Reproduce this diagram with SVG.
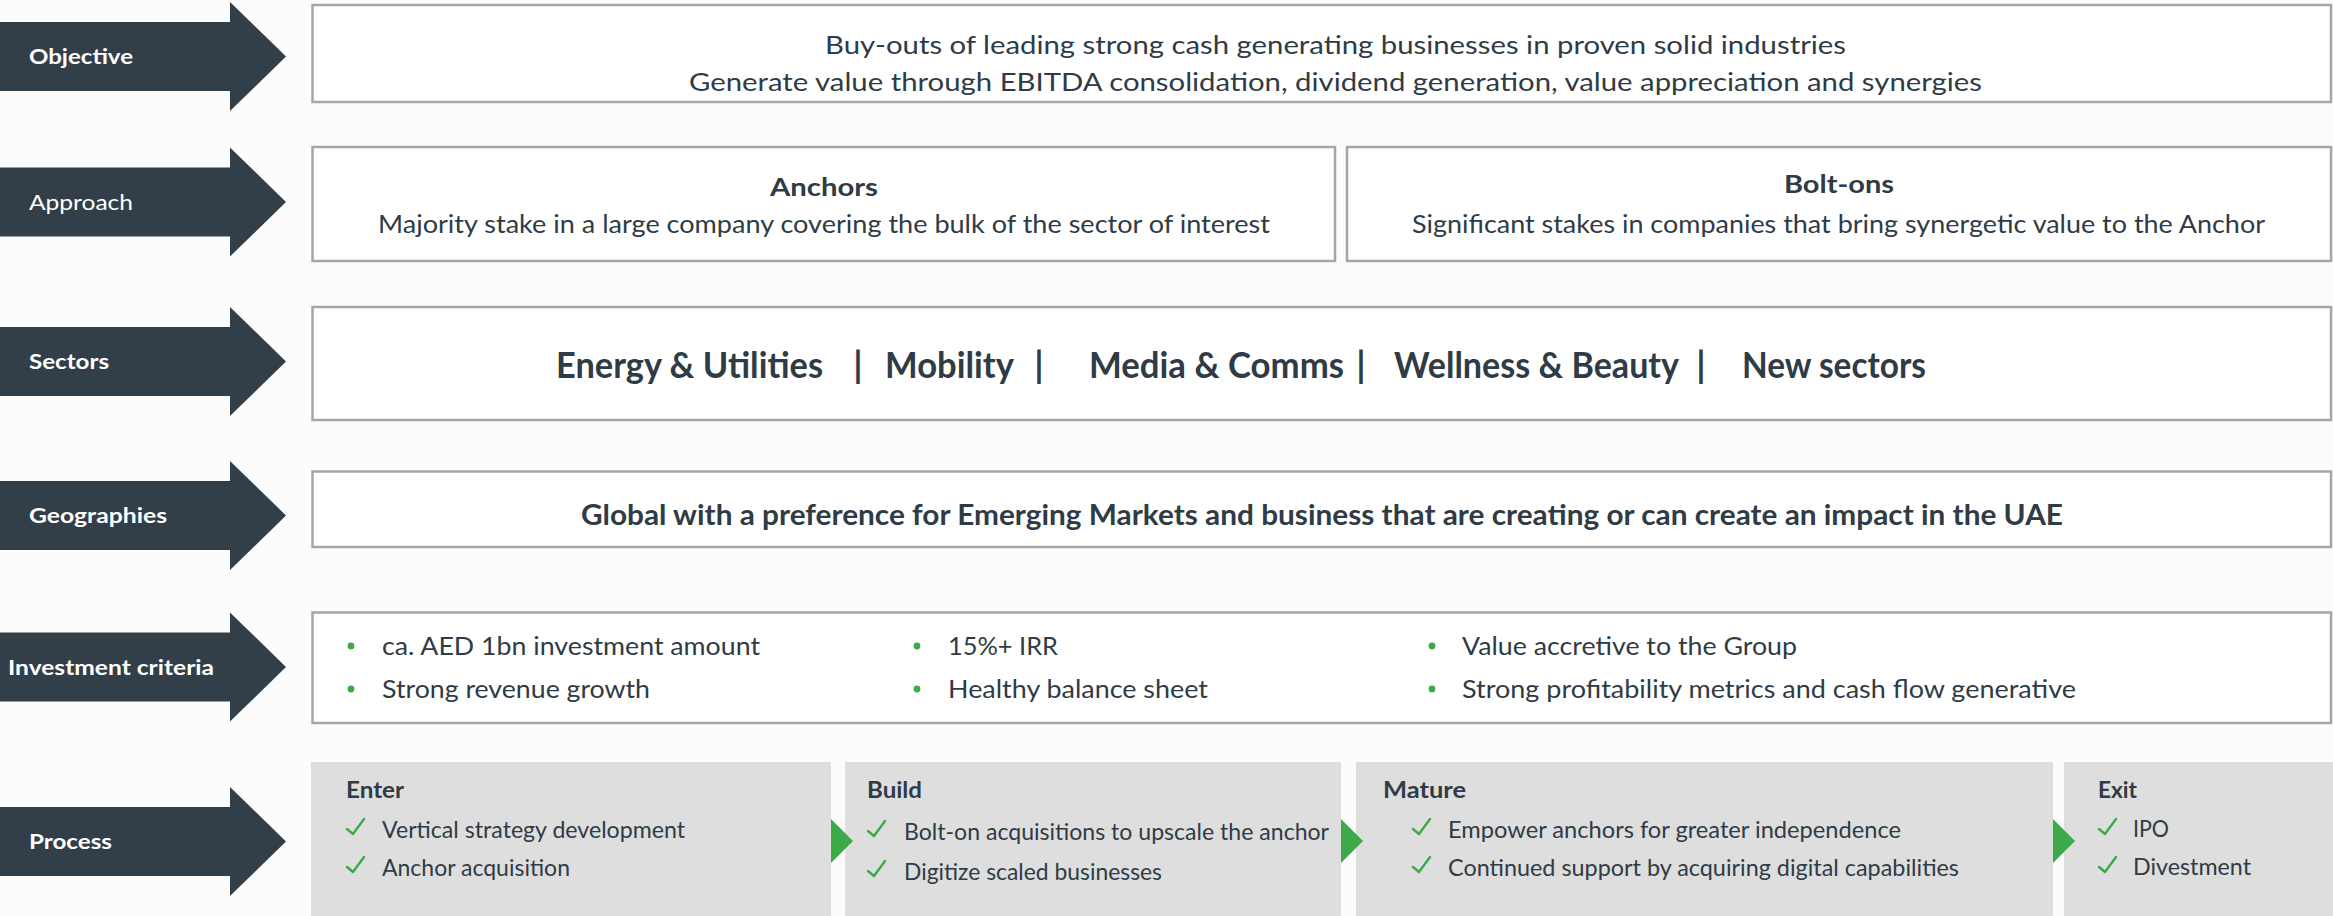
<svg xmlns="http://www.w3.org/2000/svg" xmlns:xlink="http://www.w3.org/1999/xlink" width="2333" height="916" viewBox="0 0 2333 916">
  <style>
    .lbl { font-family: Lato, "Open Sans", "Liberation Sans", sans-serif; font-weight: 700; font-size: 21px; fill: #FFFFFF; }
    .lbl-r { font-weight: 400; }
    .t { font-family: Lato, "Open Sans", "Liberation Sans", sans-serif; font-size: 25px; fill: #2F3B45; }
    .tb { font-weight: 700; }
    .sec { font-family: Lato, "Open Sans", "Liberation Sans", sans-serif; font-weight: 700; font-size: 36px; fill: #2F3B45; }
    .geo { font-family: Lato, "Open Sans", "Liberation Sans", sans-serif; font-weight: 700; font-size: 28px; fill: #2F3B45; }
    .pt { font-family: Lato, "Open Sans", "Liberation Sans", sans-serif; font-size: 23px; fill: #2F3B45; }
    .ph { font-family: Lato, "Open Sans", "Liberation Sans", sans-serif; font-weight: 700; font-size: 23px; fill: #2F3B45; }
    .box { fill: #FFFFFF; stroke: #A6A6A6; stroke-width: 2.5; }
    .stage { fill: #DEDEDE; }
    .arrow { fill: #333F48; }
    .tri { fill: #3DAA49; }
    .dot { fill: #3DAA49; }
    .chk { fill: none; stroke: #3DAA49; stroke-width: 2.4; stroke-linecap: round; stroke-linejoin: round; }
  </style>
  <defs>
    <!-- block arrow used for every row label, centred on y=0 -->
    <path id="rowArrow" d="M0,-34.5 H230 V-54.5 L286,0 L230,54.5 V34.5 H0 Z"/>
    <!-- tick used in the process stages, top-left origin -->
    <path id="tick" d="M0,10 L6,15 L17,0"/>
  </defs>

  <rect x="0" y="0" width="2333" height="916" fill="#FCFCFC"/>

  <!-- Objective -->
  <g id="objective">
    <use xlink:href="#rowArrow" class="arrow" transform="translate(0,56.5)"/>
    <text class="lbl" x="29" y="64" textLength="104" lengthAdjust="spacingAndGlyphs">Objective</text>
    <rect class="box" x="312.5" y="5" width="2018.5" height="97"/>
    <text class="t" x="1335.5" y="54" text-anchor="middle" textLength="1021" lengthAdjust="spacingAndGlyphs">Buy-outs of leading strong cash generating businesses in proven solid industries</text>
    <text class="t" x="1335.5" y="91" text-anchor="middle" textLength="1293" lengthAdjust="spacingAndGlyphs">Generate value through EBITDA consolidation, dividend generation, value appreciation and synergies</text>
  </g>

  <!-- Approach -->
  <g id="approach">
    <use xlink:href="#rowArrow" class="arrow" transform="translate(0,202)"/>
    <text class="lbl lbl-r" x="29" y="210" textLength="104" lengthAdjust="spacingAndGlyphs">Approach</text>
  </g>
  <g id="anchors">
    <rect class="box" x="312.5" y="147" width="1022.5" height="114"/>
    <text class="t tb" x="824" y="196" text-anchor="middle" textLength="108" lengthAdjust="spacingAndGlyphs">Anchors</text>
    <text class="t" x="824" y="233" text-anchor="middle" textLength="892" lengthAdjust="spacingAndGlyphs">Majority stake in a large company covering the bulk of the sector of interest</text>
  </g>
  <g id="bolt-ons">
    <rect class="box" x="1347" y="147" width="984" height="114"/>
    <text class="t tb" x="1839" y="193" text-anchor="middle" textLength="110" lengthAdjust="spacingAndGlyphs">Bolt-ons</text>
    <text class="t" x="1838.5" y="233" text-anchor="middle" textLength="853" lengthAdjust="spacingAndGlyphs">Significant stakes in companies that bring synergetic value to the Anchor</text>
  </g>

  <!-- Sectors -->
  <g id="sectors">
    <use xlink:href="#rowArrow" class="arrow" transform="translate(0,361.5)"/>
    <text class="lbl" x="29" y="369" textLength="80" lengthAdjust="spacingAndGlyphs">Sectors</text>
    <rect class="box" x="312.5" y="307" width="2018.5" height="113"/>
    <text class="sec" x="556" y="378" textLength="267" lengthAdjust="spacingAndGlyphs">Energy &amp; Utilities</text>
    <text class="sec" x="858" y="378" text-anchor="middle">|</text>
    <text class="sec" x="885" y="378" textLength="129" lengthAdjust="spacingAndGlyphs">Mobility</text>
    <text class="sec" x="1039" y="378" text-anchor="middle">|</text>
    <text class="sec" x="1089" y="378" textLength="255" lengthAdjust="spacingAndGlyphs">Media &amp; Comms</text>
    <text class="sec" x="1361" y="378" text-anchor="middle">|</text>
    <text class="sec" x="1394" y="378" textLength="285" lengthAdjust="spacingAndGlyphs">Wellness &amp; Beauty</text>
    <text class="sec" x="1701" y="378" text-anchor="middle">|</text>
    <text class="sec" x="1742" y="378" textLength="184" lengthAdjust="spacingAndGlyphs">New sectors</text>
  </g>

  <!-- Geographies -->
  <g id="geographies">
    <use xlink:href="#rowArrow" class="arrow" transform="translate(0,515.5)"/>
    <text class="lbl" x="29" y="523" textLength="138" lengthAdjust="spacingAndGlyphs">Geographies</text>
    <rect class="box" x="312.5" y="471.5" width="2018.5" height="75.5"/>
    <text class="geo" x="581" y="525" textLength="1482" lengthAdjust="spacingAndGlyphs">Global with a preference for Emerging Markets and business that are creating or can create an impact in the UAE</text>
  </g>

  <!-- Investment criteria -->
  <g id="investment-criteria">
    <use xlink:href="#rowArrow" class="arrow" transform="translate(0,667)"/>
    <text class="lbl" x="8" y="675" textLength="206" lengthAdjust="spacingAndGlyphs">Investment criteria</text>
    <rect class="box" x="312.5" y="612.5" width="2018.5" height="110.5"/>
    <circle class="dot" cx="351" cy="646" r="3.4"/>
    <circle class="dot" cx="351" cy="689" r="3.4"/>
    <circle class="dot" cx="917" cy="646" r="3.4"/>
    <circle class="dot" cx="917" cy="689" r="3.4"/>
    <circle class="dot" cx="1432" cy="646" r="3.4"/>
    <circle class="dot" cx="1432" cy="689" r="3.4"/>
    <text class="t" x="382" y="655" textLength="378" lengthAdjust="spacingAndGlyphs">ca. AED 1bn investment amount</text>
    <text class="t" x="382" y="698" textLength="268" lengthAdjust="spacingAndGlyphs">Strong revenue growth</text>
    <text class="t" x="948" y="655" textLength="110" lengthAdjust="spacingAndGlyphs">15%+ IRR</text>
    <text class="t" x="948" y="698" textLength="260" lengthAdjust="spacingAndGlyphs">Healthy balance sheet</text>
    <text class="t" x="1462" y="655" textLength="335" lengthAdjust="spacingAndGlyphs">Value accretive to the Group</text>
    <text class="t" x="1462" y="698" textLength="614" lengthAdjust="spacingAndGlyphs">Strong profitability metrics and cash flow generative</text>
  </g>

  <!-- Process -->
  <g id="process">
    <use xlink:href="#rowArrow" class="arrow" transform="translate(0,841.5)"/>
    <text class="lbl" x="29" y="849" textLength="83" lengthAdjust="spacingAndGlyphs">Process</text>
  </g>
  <g id="stage-enter">
    <rect class="stage" x="311" y="762" width="520" height="154"/>
    <text class="ph" x="346" y="798" textLength="58" lengthAdjust="spacingAndGlyphs">Enter</text>
    <use xlink:href="#tick" class="chk" transform="translate(347,819)"/>
    <use xlink:href="#tick" class="chk" transform="translate(347,857)"/>
    <text class="pt" x="382" y="838" textLength="303" lengthAdjust="spacingAndGlyphs">Vertical strategy development</text>
    <text class="pt" x="382" y="876" textLength="188" lengthAdjust="spacingAndGlyphs">Anchor acquisition</text>
  </g>
  <g id="stage-build">
    <rect class="stage" x="845" y="762" width="496" height="154"/>
    <text class="ph" x="867" y="798" textLength="55" lengthAdjust="spacingAndGlyphs">Build</text>
    <use xlink:href="#tick" class="chk" transform="translate(868,821)"/>
    <use xlink:href="#tick" class="chk" transform="translate(868,861)"/>
    <text class="pt" x="904" y="840" textLength="425" lengthAdjust="spacingAndGlyphs">Bolt-on acquisitions to upscale the anchor</text>
    <text class="pt" x="904" y="880" textLength="258" lengthAdjust="spacingAndGlyphs">Digitize scaled businesses</text>
  </g>
  <g id="stage-mature">
    <rect class="stage" x="1356" y="762" width="697" height="154"/>
    <text class="ph" x="1383" y="798" textLength="83" lengthAdjust="spacingAndGlyphs">Mature</text>
    <use xlink:href="#tick" class="chk" transform="translate(1413,819)"/>
    <use xlink:href="#tick" class="chk" transform="translate(1413,857)"/>
    <text class="pt" x="1448" y="838" textLength="453" lengthAdjust="spacingAndGlyphs">Empower anchors for greater independence</text>
    <text class="pt" x="1448" y="876" textLength="511" lengthAdjust="spacingAndGlyphs">Continued support by acquiring digital capabilities</text>
  </g>
  <g id="stage-exit">
    <rect class="stage" x="2064" y="762" width="269" height="154"/>
    <text class="ph" x="2098" y="798" textLength="39" lengthAdjust="spacingAndGlyphs">Exit</text>
    <use xlink:href="#tick" class="chk" transform="translate(2099,819)"/>
    <use xlink:href="#tick" class="chk" transform="translate(2099,857)"/>
    <text class="pt" x="2133" y="837" textLength="36" lengthAdjust="spacingAndGlyphs">IPO</text>
    <text class="pt" x="2133" y="875" textLength="118" lengthAdjust="spacingAndGlyphs">Divestment</text>
  </g>

  <!-- stage-to-stage pointers -->
  <g id="connectors">
    <path class="tri" d="M831,819 L853,841 L831,863 Z"/>
    <path class="tri" d="M1341,819 L1363,841 L1341,863 Z"/>
    <path class="tri" d="M2053,819 L2075,841 L2053,863 Z"/>
  </g>
</svg>
